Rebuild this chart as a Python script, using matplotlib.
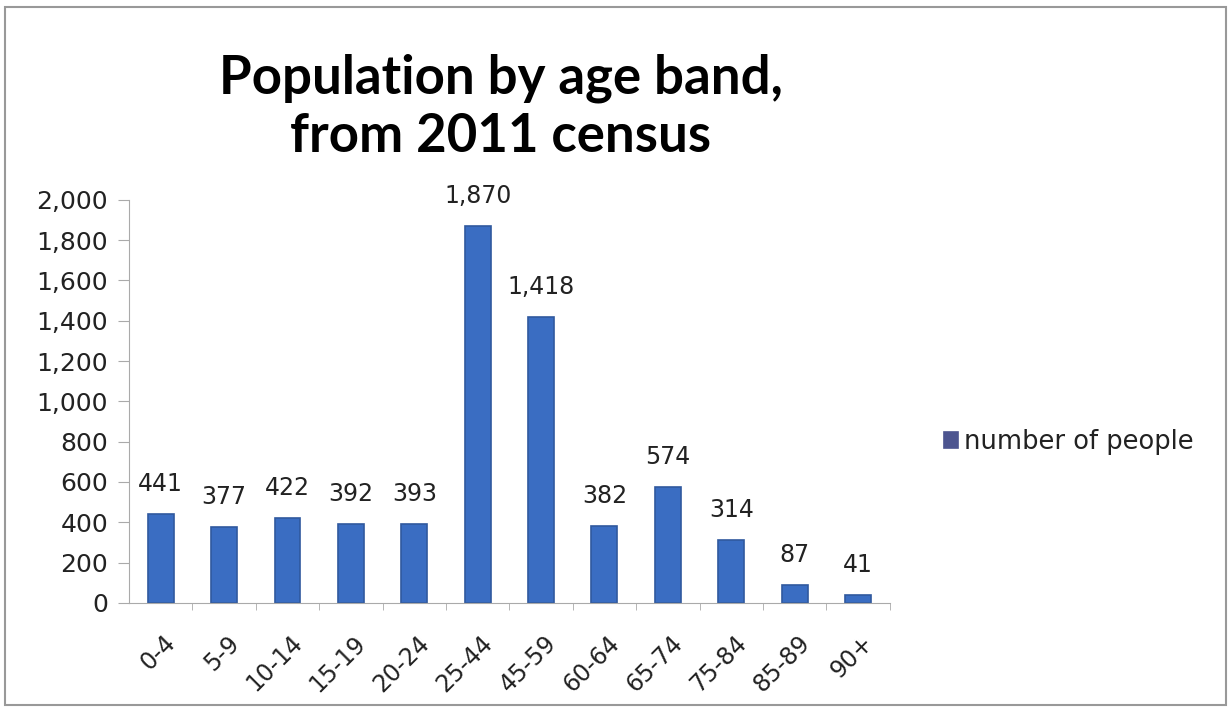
import matplotlib.pyplot as plt
import matplotlib.transforms as mtransforms
from matplotlib.patches import Rectangle
from matplotlib.ticker import FuncFormatter, FixedLocator
import numpy as np

# data
age_bands = ['0-4', '5-9', '10-14', '15-19', '20-24', '25-44', '45-59',
             '60-64', '65-74', '75-84', '85-89', '90+']
people = [441, 377, 422, 392, 393, 1870, 1418, 382, 574, 314, 87, 41]

plt.rcParams['font.family'] = ['DejaVu Sans']

fig = plt.figure(figsize=(12.31, 7.11), dpi=100)
ax = fig.add_axes([0.1048, 0.152, 0.618, 0.567])

x = np.arange(len(age_bands))
bars = ax.bar(x, people, width=0.41, color='#3a6dc2', edgecolor='#30599e',
              linewidth=1.2, label='number of people')

for xi, v in zip(x, people):
    ax.annotate(f'{v:,}', (xi, v), xytext=(0, 13), textcoords='offset points',
                ha='center', va='bottom', fontsize=17, color='#222222')

ax.set_xlim(-0.5, len(age_bands) - 0.5)
ax.set_ylim(0, 2000)
ax.set_yticks(np.arange(0, 2001, 200))
ax.yaxis.set_major_formatter(FuncFormatter(lambda v, p: f'{int(v):,}'))
ax.set_xticks(x)
ax.set_xticklabels(age_bands, rotation=45, ha='right', rotation_mode='anchor')
ax.xaxis.set_minor_locator(FixedLocator(np.arange(0.5, len(age_bands), 1.0)))
ax.tick_params(axis='x', which='major', length=0, labelsize=17, pad=20)
ax.tick_params(axis='x', which='minor', length=5, color='#aaaaaa', direction='out')
ax.tick_params(axis='y', length=8, color='#aaaaaa', labelsize=18, pad=7,
               labelcolor='#222222')
ax.tick_params(axis='x', labelcolor='#222222')

# nudge rotated labels a bit to the right, like the original
shift = mtransforms.ScaledTranslation(3 / 100, 0, fig.dpi_scale_trans)
for lbl in ax.get_xticklabels():
    lbl.set_transform(lbl.get_transform() + shift)

for s in ['top', 'right']:
    ax.spines[s].set_visible(False)
for s in ['left', 'bottom']:
    ax.spines[s].set_color('#aaaaaa')

fig.text(0.407, 0.868, 'Population by age band,', ha='center', va='baseline',
         fontsize=38, fontweight='bold', family='Lato')
fig.text(0.407, 0.786, 'from 2011 census', ha='center', va='baseline',
         fontsize=38, fontweight='bold', family='Lato')

leg = fig.legend(handles=[bars], loc='center left', bbox_to_anchor=(0.748, 0.378),
                 frameon=False, fontsize=18.5, handlelength=0.55, handleheight=0.6,
                 handletextpad=0.25, labelcolor='#222222')
leg.legend_handles[0].set_facecolor('#4d5590')
leg.legend_handles[0].set_edgecolor('#4d5590')

fig.patches.append(Rectangle((0.004, 0.008), 0.992, 0.982, transform=fig.transFigure,
                             fill=False, edgecolor='#999999', linewidth=1.5))

fig.savefig('out.png', dpi=100)
